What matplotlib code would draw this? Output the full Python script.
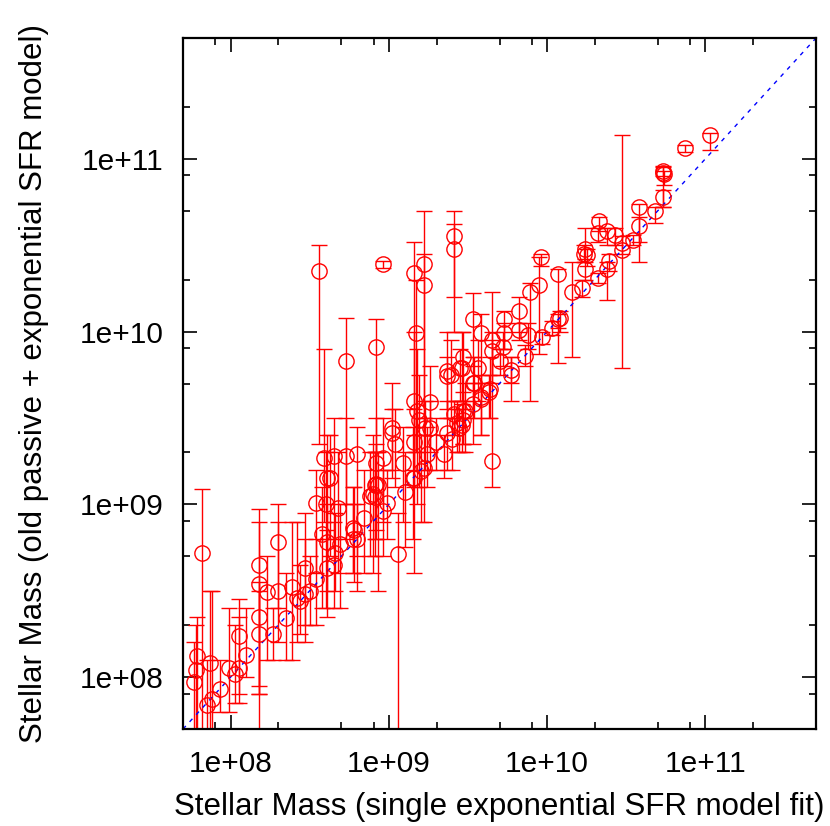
import numpy as np
import matplotlib
matplotlib.use("Agg")
import matplotlib.pyplot as plt
from matplotlib.ticker import LogLocator, FuncFormatter, NullFormatter

# log10 stellar masses
# x: single exponential SFR fit, y: old passive + exponential, y_lo/y_hi: error bar ends
logm_single = [11.03, 10.87, 10.73, 10.73, 10.74, 10.73, 10.68, 10.58, 10.58, 10.54,
               10.47, 10.47, 10.43, 10.33, 10.32, 10.38, 10.24, 10.23, 10.25, 10.24,
               10.38, 10.39, 10.32, 10.22, 10.16, 10.07, 9.96, 9.95, 9.89, 10.08,
               10.07, 10.03, 9.97, 9.41, 9.41, 9.53, 9.58, 9.65, 9.65, 9.73,
               9.73, 9.82, 9.82, 9.88, 9.72, 9.70, 9.86, 9.77, 9.47, 9.56,
               9.45, 8.56, 8.96, 9.16, 9.22, 9.22, 9.17, 8.73, 8.92, 9.37,
               9.37, 9.46, 9.53, 9.63, 9.58, 9.47, 9.43, 9.46, 9.41, 9.65,
               9.16, 9.18, 9.26, 9.19, 9.23, 9.26, 9.02, 9.02, 9.04, 9.16,
               9.30, 9.35, 9.24, 9.09, 8.92, 8.59, 8.73, 8.80, 8.61, 8.96,
               9.15, 8.92, 9.20, 9.40, 9.44, 9.47, 9.06, 8.93, 8.90, 9.10,
               9.16, 9.22, 8.96, 8.99, 8.84, 8.78, 8.77, 8.69, 8.66, 8.65,
               8.63, 8.88, 9.37, 9.48, 9.53, 9.58, 9.64, 9.77, 9.54, 9.39,
               7.82, 7.79, 7.78, 7.77, 7.87, 7.85, 7.88, 7.93, 7.99, 8.05,
               8.03, 8.05, 8.10, 8.18, 8.18, 8.18, 8.18, 8.23, 8.27, 8.30,
               8.30, 8.35, 8.39, 8.42, 8.47, 8.47, 8.54, 8.60, 8.58, 8.61,
               8.68, 8.77, 8.80, 8.91, 8.91, 8.54, 8.61, 8.65, 8.44, 8.50]

logm_double = [11.14, 11.06, 10.93, 10.92, 10.91, 10.78, 10.70, 10.72, 10.61, 10.53,
               10.51, 10.47, 10.56, 10.64, 10.57, 10.58, 10.48, 10.45, 10.44, 10.36,
               10.36, 10.41, 10.31, 10.25, 10.23, 10.33, 10.43, 10.27, 10.23, 10.08,
               10.07, 10.02, 9.97, 10.55, 10.48, 10.07, 9.99, 9.95, 9.89, 10.07,
               9.99, 10.12, 10.01, 9.98, 9.91, 9.83, 9.86, 9.78, 9.85, 9.79,
               9.79, 10.35, 10.39, 10.34, 10.39, 10.27, 9.99, 9.83, 9.91, 9.77,
               9.74, 9.79, 9.70, 9.65, 9.61, 9.54, 9.47, 9.46, 9.52, 9.25,
               9.60, 9.54, 9.59, 9.49, 9.44, 9.44, 9.44, 9.41, 9.35, 9.36,
               9.36, 9.29, 9.29, 9.24, 9.24, 9.27, 9.28, 9.29, 9.15, 9.27,
               9.15, 9.12, 9.19, 9.38, 9.44, 9.49, 8.71, 9.11, 9.06, 9.07,
               9.15, 9.21, 8.96, 9.01, 8.92, 8.85, 8.80, 8.77, 8.72, 9.28,
               9.15, 9.05, 9.41, 9.54, 9.58, 9.62, 9.67, 9.75, 9.70, 9.75,
               8.72, 8.12, 8.04, 7.97, 8.08, 7.84, 7.87, 7.93, 8.05, 8.05,
               8.02, 8.24, 8.13, 8.65, 8.54, 8.35, 8.25, 8.49, 8.25, 8.78,
               8.50, 8.34, 8.52, 8.46, 8.63, 8.48, 9.01, 9.00, 8.83, 8.78,
               8.98, 8.86, 8.80, 9.11, 9.04, 8.57, 8.63, 8.65, 8.44, 8.50]

logm_lo = [11.05, 11.04, 10.90, 10.72, 10.85, 10.72, 10.63, 10.40, 10.52, 10.50,
           10.45, 9.79, 10.50, 10.58, 10.52, 10.50, 10.40, 10.40, 10.38, 10.30,
           10.18, 10.35, 10.28, 10.20, 9.85, 9.82, 10.38, 9.87, 9.60, 10.00,
           10.02, 9.98, 9.93, 10.00, 10.20, 9.80, 9.70, 9.70, 9.75, 9.90,
           9.90, 10.00, 9.95, 9.90, 9.80, 9.75, 9.80, 9.70, 9.55, 9.60,
           9.60, 9.35, 10.37, 9.30, 9.40, 9.50, 9.30, 9.00, 9.30, 9.55,
           9.50, 9.60, 9.50, 9.50, 9.40, 9.35, 9.30, 9.30, 9.40, 9.10,
           9.20, 9.00, 9.20, 9.10, 9.20, 9.30, 9.15, 9.20, 9.10, 9.10,
           9.20, 9.15, 9.10, 8.90, 8.85, 8.90, 8.80, 8.70, 8.80, 8.90,
           8.80, 8.80, 8.90, 9.20, 9.30, 9.35, 7.50, 8.50, 8.60, 8.75,
           8.60, 8.90, 8.70, 8.80, 8.60, 8.55, 8.60, 8.40, 8.50, 8.80,
           8.70, 8.70, 9.20, 9.30, 9.35, 9.40, 9.50, 9.60, 9.50, 9.50,
           7.50, 7.70, 7.70, 7.70, 7.70, 7.65, 7.70, 7.80, 7.80, 7.85,
           7.85, 7.90, 8.00, 7.95, 7.50, 7.90, 7.90, 8.10, 8.10, 8.40,
           8.20, 8.10, 8.10, 8.20, 8.30, 8.20, 8.60, 8.40, 8.40, 8.50,
           8.60, 8.60, 8.50, 8.80, 8.70, 8.30, 8.35, 8.40, 8.25, 8.30]

logm_hi = [11.15, 11.08, 10.96, 10.95, 10.93, 10.82, 10.72, 10.74, 10.66, 10.56,
           10.55, 11.14, 10.60, 10.66, 10.60, 10.60, 10.60, 10.50, 10.48, 10.42,
           10.40, 10.45, 10.34, 10.30, 10.40, 10.36, 10.45, 10.43, 10.28, 10.12,
           10.10, 10.06, 10.00, 10.70, 10.62, 10.22, 10.10, 10.23, 10.00, 10.12,
           10.05, 10.20, 10.05, 10.05, 10.00, 9.90, 9.92, 9.85, 10.00, 9.95,
           9.90, 10.50, 10.41, 10.52, 10.70, 10.45, 10.30, 10.08, 10.07, 10.00,
           9.85, 10.00, 9.85, 9.75, 9.70, 9.65, 9.60, 9.58, 9.60, 9.95,
           10.00, 9.90, 9.80, 9.75, 9.60, 9.60, 9.70, 9.55, 9.55, 9.55,
           9.50, 9.40, 9.45, 9.45, 9.50, 9.90, 9.50, 9.45, 9.40, 9.50,
           9.45, 9.35, 9.40, 9.50, 9.55, 9.60, 8.95, 9.30, 9.40, 9.30,
           9.40, 9.50, 9.20, 9.20, 9.20, 9.10, 9.00, 9.00, 8.95, 9.50,
           9.40, 9.30, 9.60, 9.70, 9.70, 9.75, 9.85, 9.85, 9.85, 9.95,
           9.09, 8.35, 8.30, 8.20, 8.50, 8.10, 8.50, 8.10, 8.40, 8.35,
           8.30, 8.45, 8.40, 8.97, 8.90, 8.55, 8.50, 8.70, 8.40, 9.00,
           8.90, 8.60, 8.90, 8.90, 8.95, 8.80, 9.20, 9.30, 9.10, 9.00,
           9.30, 9.10, 9.00, 9.30, 9.30, 8.80, 8.85, 8.90, 8.65, 8.70]

x = 10 ** np.array(logm_single)
y = 10 ** np.array(logm_double)
ylo = 10 ** np.array(logm_lo)
yhi = 10 ** np.array(logm_hi)

plt.rcParams['font.family'] = ['Liberation Sans', 'DejaVu Sans']

fig = plt.figure(figsize=(8.3, 8.26), dpi=100)
ax = fig.add_axes([0.2205, 0.1174, 0.7627, 0.8366])

ax.errorbar(x, y, yerr=[y - ylo, yhi - y], fmt='o', mfc='none', mec='red',
            ecolor='red', color='red', markersize=11, mew=1, elinewidth=1,
            capsize=6, capthick=1)

line = np.array([5e7, 5e11])
ax.plot(line, line, color='blue', ls=(0, (3, 4)), lw=1)

ax.set_xscale('log')
ax.set_yscale('log')
ax.set_xlim(5e7, 5e11)
ax.set_ylim(5e7, 5e11)

fmt = FuncFormatter(lambda v, p: f"{v:.0e}")
for a in (ax.xaxis, ax.yaxis):
    a.set_major_locator(LogLocator(base=10, subs=(1.0,)))
    a.set_minor_locator(LogLocator(base=10, subs=(2.0, 5.0, 8.0)))
    a.set_major_formatter(fmt)
    a.set_minor_formatter(NullFormatter())

ax.tick_params(which='both', direction='in', top=True, right=True, labelsize=21.5, width=1.2)
ax.tick_params(which='major', length=10)
ax.tick_params(which='minor', length=5)
ax.tick_params(axis='x', pad=15)
ax.tick_params(axis='y', pad=14)
for s in ax.spines.values():
    s.set_linewidth(1.6)

ax.set_xlabel("Stellar Mass (single exponential SFR model fit)", fontsize=22.5, labelpad=10)
ax.set_ylabel("Stellar Mass (old passive + exponential SFR model)", fontsize=22.5, labelpad=22)

fig.savefig("out.png", dpi=100)
